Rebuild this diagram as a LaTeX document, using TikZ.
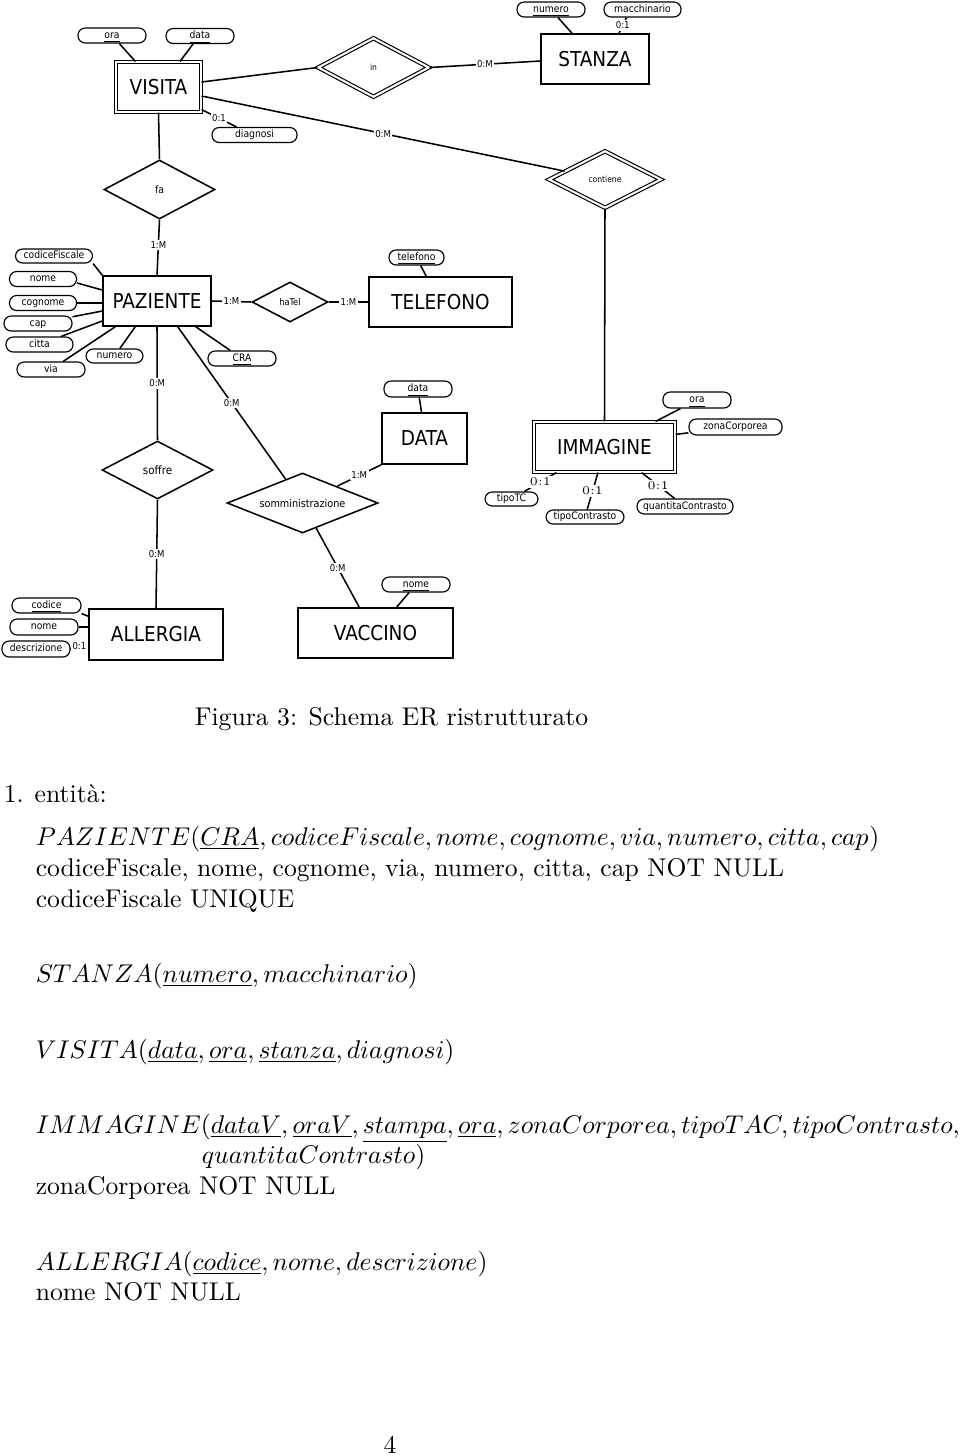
\documentclass[tikz,border=0pt]{standalone}
\usepackage{fontspec}
\usepackage{tikz}
\usetikzlibrary{positioning,shapes,calc}
\newfontfamily\erfont{DejaVu Sans Condensed}
\newcommand{\entfont}{\erfont\fontsize{8pt}{9pt}\selectfont}
\newcommand{\attfont}{\erfont\fontsize{4pt}{5pt}\selectfont}
\newcommand{\cardfont}{\erfont\fontsize{3.7pt}{4pt}\selectfont}

\begin{document}
\begin{tikzpicture}
              [x=0.39pt,y=-0.39pt,line width=0.6pt,
                every node/.style={inner sep=0.5pt},
                sz/.style 2 args={minimum width=#1*0.39pt,minimum height=#2*0.39pt},
                entity/.style={draw,rectangle,font=\entfont},
                weak/.style={entity,double,double distance=0.8pt,line width=0.45pt},
                rel/.style={draw,diamond,aspect=2.5,font=\attfont},
                idrel/.style={rel,double,double distance=0.8pt,line width=0.45pt},
                attr/.style={draw,rectangle,line width=0.45pt,rounded corners=2.8pt,font=\attfont,text height=3pt,text depth=0.9pt,minimum height=15*0.39pt},
                card/.style={fill=white,inner sep=0.6pt,font=\cardfont},
                cardrm/.style={fill=white,inner sep=0.6pt,font=\rmfamily\fontsize{4.6pt}{5pt}\selectfont},
                txt/.style={anchor=base west,inner sep=0pt}]
              \path[use as bounding box,fill=white] (0,0) rectangle (960,1456);
              \node[weak,sz={85}{50}] (visita) at (158.5,87) {VISITA};
              \node[entity,sz={108}{50}] (stanza) at (595,59) {STANZA};
              \node[entity,sz={108}{50}] (paziente) at (157,301) {PAZIENTE};
              \node[entity,sz={143}{50}] (telefono) at (440.5,302) {TELEFONO};
              \node[entity,sz={85}{51}] (data) at (424.5,438.5) {DATA};
              \node[weak,sz={141}{50}] (immagine) at (604.5,447) {IMMAGINE};
              \node[entity,sz={134}{51}] (allergia) at (156,634.5) {ALLERGIA};
              \node[entity,sz={155}{50}] (vaccino) at (375.5,633) {VACCINO};
              \node[rel,sz={111}{59}] (rfa) at (159.5,189.5) {fa};
              \node[idrel,sz={111}{59},font=\erfont\fontsize{3.3pt}{4pt}\selectfont] (rin) at (373.5,67.5) {in};
              \node[idrel,sz={112}{57},font=\erfont\fontsize{3.3pt}{4pt}\selectfont] (rcont) at (605,179.5) {contiene};
              \node[rel,sz={76}{40},font=\erfont\fontsize{3.6pt}{4pt}\selectfont] (rhatel) at (290,302) {haTel};
              \node[rel,sz={111}{58},font=\erfont\fontsize{4.5pt}{5pt}\selectfont] (rsoffre) at (157.5,470) {soffre};
              \node[rel,sz={151}{60},font=\erfont\fontsize{4.2pt}{5pt}\selectfont] (rsomm) at (302.5,503) {somministrazione};
              \node[attr,sz={68}{15}] (vora) at (112,35.5) {\underline{ora}};
              \node[attr,sz={68}{15}] (vdata) at (200,36) {\underline{data}};
              \node[attr,sz={85}{15}] (diagnosi) at (254.5,135) {diagnosi};
              \node[attr,sz={68}{15}] (snumero) at (551,9.5) {\underline{numero}};
              \node[attr,sz={77}{15}] (macchinario) at (642.5,9.5) {macchinario};
              \node[attr,sz={77}{14}] (cf) at (54,256) {codiceFiscale};
              \node[attr,sz={67}{15}] (pnome) at (43,279) {nome};
              \node[attr,sz={67}{15}] (cognome) at (43,303) {cognome};
              \node[attr,sz={68}{15}] (cap) at (38,323.5) {cap};
              \node[attr,sz={67}{15}] (citta) at (39.5,344.5) {citta};
              \node[attr,sz={68}{15}] (via) at (51,369.5) {via};
              \node[attr,sz={57}{14}] (pnumero) at (114.5,356) {numero};
              \node[attr,sz={68}{15}] (cra) at (242,358.5) {\underline{CRA}};
              \node[attr,sz={55}{15}] (tel) at (416.5,257.5) {\underline{telefono}};
              \node[attr,sz={68}{16}] (ddata) at (418,389) {\underline{data}};
              \node[attr,sz={68}{16}] (iora) at (697,400) {\underline{ora}};
              \node[attr,sz={93}{16}] (zona) at (735.5,427) {zonaCorporea};
              \node[attr,sz={53}{14}] (tipotc) at (511.5,499) {tipoTC};
              \node[attr,sz={78}{14}] (tipocontrasto) at (585,517) {tipoContrasto};
              \node[attr,sz={96}{15}] (quantita) at (685,506.5) {quantitaContrasto};
              \node[attr,sz={68}{15}] (vnome) at (416,584.5) {\underline{nome}};
              \node[attr,sz={69}{15}] (codice) at (46.5,605.5) {\underline{codice}};
              \node[attr,sz={68}{16}] (anome) at (44,627) {nome};
              \node[attr,sz={68}{16}] (descrizione) at (36,649) {descrizione};
              \foreach \from/\to in {vora/visita,visita.south/rfa.north,rcont.south/immagine.north}
              \draw (\from) -- (\to);
              \draw ($(vdata.south)+(-7,0)$) -- ($(visita.north)+(21.5,0)$);
              \draw ($(visita.east)+(0,-5)$) -- (rin.west);
              \draw (rin.east) -- node[card] (k1) {0:M} ($(stanza.west)+(0,2)$);
              \draw ($(visita.east)+(0,9)$) -- node[card] (k2) {0:M} (rcont);
              \draw ($(visita.south east)+(0,-3)$) -- node[card] (k3) {0:1} ($(diagnosi.north)+(-18,0)$);
              \draw ($(snumero.south)+(7,0)$) -- ($(stanza.north)+(-23,0)$);
              \draw ($(macchinario.south)+(-16,0)$) -- node[card] (k4) {0:1} ($(stanza.north)+(24,0)$);
              \draw (rfa.south) -- node[card,pos=.45] (k5) {1:M} (paziente.north);
              \draw (cf.south east) -- (paziente.north west);
              \draw ($(pnome.east)+(0,4)$) -- ($(paziente.west)+(0,-11)$);
              \draw (cognome.east) -- (cognome.east -| paziente.west);
              \draw (cap) -- ($(paziente.west)+(0,10)$);
              \draw (citta) -- ($(paziente.west)+(0,20)$);
              \draw (via) -- ($(paziente.south west)+(13,0)$);
              \draw (pnumero) -- ($(paziente.south west)+(33,0)$);
              \draw (cra) -- ($(paziente.south east)+(-16,0)$);
              \draw (paziente.east) -- node[card] (k6) {1:M} (rhatel.west);
              \draw (rhatel.east) -- node[card] (k7) {1:M} (telefono.west);
              \draw (tel) -- ($(telefono.north west)+(58,0)$);
              \draw (paziente.south) -- node[card] (k8) {0:M} (rsoffre.north);
              \draw (rsoffre.south) -- node[card] (k9) {0:M} (allergia.north);
              \draw ($(paziente.south east)+(-34,0)$) -- node[card] (k10) {0:M} (rsomm);
              \draw (rsomm) -- node[card] (k11) {1:M} (data.south west);
              \draw (rsomm) -- node[card] (k12) {0:M} ($(vaccino.north west)+(62,0)$);
              \draw (ddata) -- ($(data.north)+(-3,0)$);
              \draw (vnome) -- ($(vaccino.north)+(21,0)$);
              \draw (codice.south east) -- ($(allergia.north west)+(0,8)$);
              \draw (anome.east) -- (anome.east -| allergia.west);
              \draw (descrizione.east) -- node[card] (k13) {0:1} ($(allergia.west)+(0,8.5)$);
              \draw (iora) -- ($(immagine.north east)+(-20,0)$);
              \draw (zona) -- ($(immagine.north east)+(0,13)$);
              \draw ($(immagine.south west)+(23,0)$) -- node[cardrm] (k14) {0:1} (tipotc);
              \draw ($(immagine.south)+(-6.5,0)$) -- node[cardrm] (k15) {0:1} (tipocontrasto);
              \draw ($(immagine.south east)+(-34,0)$) -- node[cardrm] (k16) {0:1} (quantita);
              \node[txt,anchor=base] (fig) at (391.5,725) {Figura 3: Schema ER ristrutturato};
              \node[txt] (t1) at (3,802) {1.\hspace{4.3pt}entità:};
              \node[txt] (t2) at (35,845) {$PAZIENTE(\underline{CRA}, codiceFiscale, nome, cognome, via, numero, citta, cap)$};
              \node[txt] (t3) at (35,876) {codiceFiscale, nome, cognome, via, numero, citta, cap NOT NULL};
              \node[txt] (t4) at (35,907) {codiceFiscale UNIQUE};
              \node[txt] (t5) at (35,982) {$STANZA(\underline{numero}, macchinario)$};
              \node[txt] (t6) at (35,1058) {$VISITA(\underline{data}, \underline{ora}, \underline{stanza}, diagnosi)$};
              \node[txt] (t7) at (35,1133) {$IMMAGINE(\underline{dataV}, \underline{oraV}, \underline{stampa}, \underline{ora}, zonaCorporea, tipoTAC, tipoContrasto,$};
              \node[txt] (t8) at (201,1163) {$quantitaContrasto)$};
              \node[txt] (t9) at (35,1194) {zonaCorporea NOT NULL};
              \node[txt] (t10) at (35,1270) {$ALLERGIA(\underline{codice}, nome, descrizione)$};
              \node[txt] (t11) at (35,1300) {nome NOT NULL};
              \node[txt,anchor=base] (pg) at (390,1453) {4};
            \end{tikzpicture}
\end{document}
